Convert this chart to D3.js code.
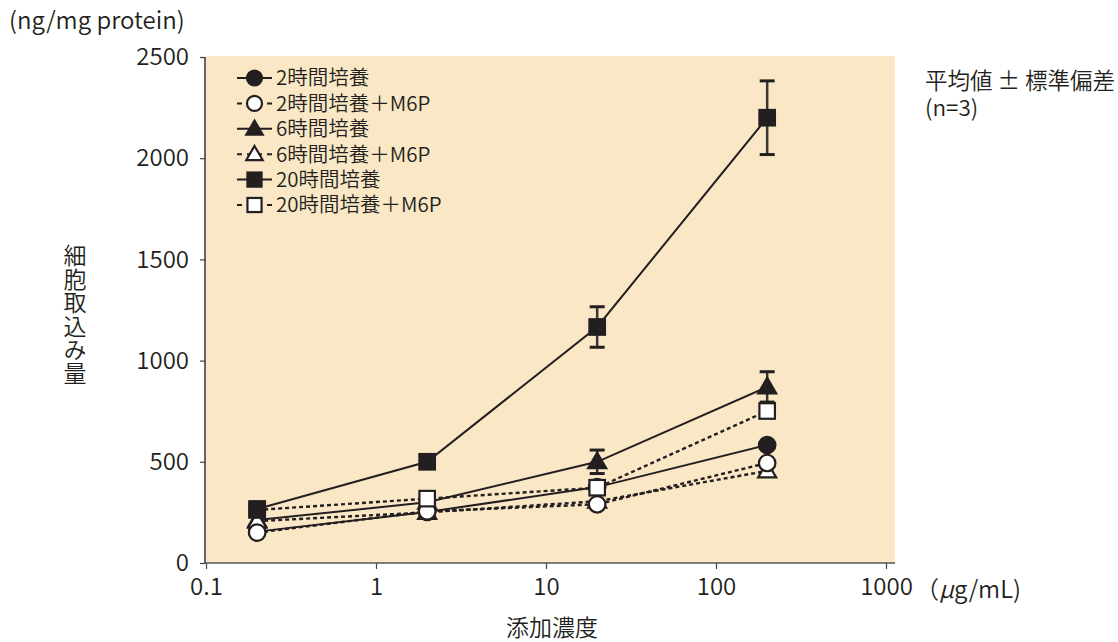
<!DOCTYPE html>
<html><head><meta charset="utf-8">
<script src="https://cdn.jsdelivr.net/npm/d3@7"></script>
<style>
body{margin:0;background:#fff;}
text{font-family:"Noto Sans CJK JP","Noto Sans",sans-serif;fill:#231f20;font-weight:350;}
</style></head>
<body><svg id="c" width="1118" height="642"></svg>
<script>
// ---- data ----
const concentrations = [0.2, 2, 20, 200];
const xTicks = [0.1, 1, 10, 100, 1000];
const yTicks = [0, 500, 1000, 1500, 2000, 2500];
const seriesNames = ["2時間培養","2時間培養＋M6P","6時間培養","6時間培養＋M6P","20時間培養","20時間培養＋M6P"];
const values2h      = [155, 252, 375, 583];
const values2hM6P   = [150, 255, 290, 494];
const values6h      = [212, 300, 500, 870];
const values6hM6P   = [207, 250, 305, 455];
const values20h     = [267, 500, 1166, 2200];
const values20hM6P  = [262, 318, 372, 751];
const errors6h      = [0, 0, 58, 75];
const errors20h     = [0, 0, 100, 182];
const markerShapes  = ["circle","circle","triangle","triangle","square","square"];
const markerFilled  = [true,false,true,false,true,false];
const dashedLines   = [false,true,false,true,false,true];

const seriesValues = [values2h, values2hM6P, values6h, values6hM6P, values20h, values20hM6P];
const seriesErrors = [null, null, errors6h, null, errors20h, null];

const ink = "#231f20";
const svg = d3.select("#c");
const L = 206, R = 895, T = 56, B = 563;
const x = d3.scaleLog().domain([0.1, 1000]).range([206, 886]);
const y = d3.scaleLinear().domain([0, 2500]).range([B, 57]);

// background
svg.append("rect").attr("x", L).attr("y", T).attr("width", R - L).attr("height", B - T).attr("fill", "#f9e7c6");

// axes
const gx = svg.append("g").attr("transform", `translate(0,${B})`)
  .call(d3.axisBottom(x).tickValues(xTicks).tickFormat(d3.format("~g")).tickSize(6).tickPadding(9).tickSizeOuter(0));
gx.select(".domain").remove();
gx.selectAll("line").attr("stroke", "#444").attr("stroke-width", 1.2);
gx.selectAll("text").style("font-size", "24px").attr("fill", ink);
svg.append("line").attr("x1", L - 1).attr("x2", R).attr("y1", B).attr("y2", B).attr("stroke", "#555").attr("stroke-width", 1.5);

const gy = svg.append("g").attr("transform", `translate(${L - 1},0)`)
  .call(d3.axisLeft(y).tickValues(yTicks).tickFormat(d3.format("d")).tickSize(5).tickPadding(11).tickSizeOuter(0));
gy.select(".domain").remove();
gy.selectAll("line").attr("stroke", "#444").attr("stroke-width", 1.2);
gy.selectAll("text").style("font-size", "24px").attr("fill", ink);
svg.append("line").attr("x1", L - 1).attr("x2", L - 1).attr("y1", 57).attr("y2", B).attr("stroke", "#333").attr("stroke-width", 1.5);

// titles
svg.append("text").attr("x", 9).attr("y", 29).style("font-size", "24px").text("(ng/mg protein)");
svg.append("text").attr("x", 75).attr("y", 244).style("font-size", "23px")
  .style("writing-mode", "vertical-rl").style("text-orientation", "upright").style("letter-spacing", "0.5px")
  .text("細胞取込み量");
svg.append("text").attr("x", 552).attr("y", 636).attr("text-anchor", "middle").style("font-size", "23px").text("添加濃度");
const unit = svg.append("text").attr("x", 915).attr("y", 598).style("font-size", "24px");
unit.append("tspan").text("（");
unit.append("tspan").attr("font-style", "italic").text("μ");
unit.append("tspan").text("g/mL)");
svg.append("text").attr("x", 925).attr("y", 89).style("font-size", "22.5px").text("平均値 ± 標準偏差");
svg.append("text").attr("x", 925).attr("y", 116).style("font-size", "22.5px").text("(n=3)");

// marker drawing
function marker(g, shape, filled, cx, cy, s) {
  const fill = filled ? ink : "#fff";
  const sw = 2.2;
  if (shape === "circle") {
    g.append("circle").attr("cx", cx).attr("cy", cy).attr("r", s * 0.5).attr("fill", fill).attr("stroke", ink).attr("stroke-width", sw);
  } else if (shape === "square") {
    const h = s * 0.47;
    g.append("rect").attr("x", cx - h).attr("y", cy - h).attr("width", 2 * h).attr("height", 2 * h).attr("fill", fill).attr("stroke", ink).attr("stroke-width", sw);
  } else {
    const h = s * 0.52;
    g.append("path").attr("d", `M${cx},${cy - h * 1.05}L${cx + h * 1.05},${cy + h * 0.75}L${cx - h * 1.05},${cy + h * 0.75}Z`)
      .attr("fill", fill).attr("stroke", ink).attr("stroke-width", sw).attr("stroke-linejoin", "miter");
  }
}

// lines
const line = d3.line().x((d, i) => x(concentrations[i])).y(d => y(d));
[0, 1, 2, 3, 4, 5].forEach(k => {
  svg.append("path").attr("d", line(seriesValues[k])).attr("fill", "none").attr("stroke", ink)
    .attr("stroke-width", dashedLines[k] ? 2.4 : 2).attr("stroke-dasharray", dashedLines[k] ? "4,3" : null);
});
// error bars
seriesErrors.forEach((errs, k) => {
  if (!errs) return;
  errs.forEach((e, i) => {
    if (!e) return;
    const cx = x(concentrations[i]), v = seriesValues[k][i];
    svg.append("line").attr("x1", cx).attr("x2", cx).attr("y1", y(v + e)).attr("y2", y(v - e)).attr("stroke", "#3a3435").attr("stroke-width", 2.5);
    [v + e, v - e].forEach(w => svg.append("line").attr("x1", cx - 7.5).attr("x2", cx + 7.5).attr("y1", y(w)).attr("y2", y(w)).attr("stroke", ink).attr("stroke-width", 3));
  });
});
// markers
const markerOrder = [0, 2, 3, 1, 5, 4];
markerOrder.forEach(k => {
  seriesValues[k].forEach((v, i) => marker(svg, markerShapes[k], markerFilled[k], x(concentrations[i]), y(v), 16.5));
});

// legend
const lg = svg.append("g");
seriesNames.forEach((name, k) => {
  const cy = 78 + k * 25.4;
  lg.append("line").attr("x1", 237).attr("x2", 272).attr("y1", cy).attr("y2", cy).attr("stroke", ink).attr("stroke-width", 2)
    .attr("stroke-dasharray", dashedLines[k] ? "5,5" : null);
  marker(lg, markerShapes[k], markerFilled[k], 254.5, cy, 15);
  lg.append("text").attr("x", 276).attr("y", cy).attr("dy", "0.36em").style("font-size", "20.5px").text(name);
});
</script></body></html>
